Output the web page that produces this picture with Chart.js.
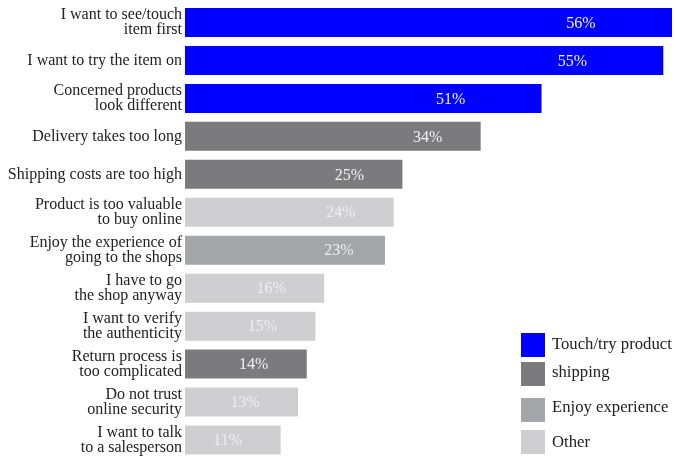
<!DOCTYPE html>
<html>
<head>
<meta charset="utf-8">
<script src="https://cdn.jsdelivr.net/npm/chart.js@4.4.1/dist/chart.umd.min.js"></script>
<style>
  html, body { margin: 0; padding: 0; background: #ffffff; overflow: hidden; }
  #wrap { position: relative; width: 676px; height: 460px; }
</style>
</head>
<body>
<div id="wrap"><canvas id="c"></canvas></div>
<script>
// ---- data ----
const categories = [
  ['I want to see/touch', 'item first'],
  'I want to try the item on',
  ['Concerned products', 'look different'],
  'Delivery takes too long',
  'Shipping costs are too high',
  ['Product is too valuable', 'to buy online'],
  ['Enjoy the experience of', 'going to the shops'],
  ['I have to go', 'the shop anyway'],
  ['I want to verify', 'the authenticity'],
  ['Return process is', 'too complicated'],
  ['Do not trust', 'online security'],
  ['I want to talk', 'to a salesperson']
];
const barValues = [56, 55, 41, 34, 25, 24, 23, 16, 15, 14, 13, 11];
const valueLabels = ['56%', '55%', '51%', '34%', '25%', '24%', '23%', '16%', '15%', '14%', '13%', '11%'];
const groups = ['touch', 'touch', 'touch', 'shipping', 'shipping', 'other', 'enjoy', 'other', 'other', 'shipping', 'other', 'other'];
const legendKeys = ['touch', 'shipping', 'enjoy', 'other'];
const legendLabels = ['Touch/try product', 'shipping', 'Enjoy experience', 'Other'];

// ---- styles ----
const groupColors = { touch: '#0000ff', shipping: '#7b7b7d', enjoy: '#a5a6a9', other: '#cfcfd1' };
const labelOffsets = { touch: 91, shipping: 53, enjoy: 46, other: 53 };
const SERIF = '"Liberation Serif", "Times New Roman", serif';

const valueLabelPlugin = {
  id: 'valueLabels',
  afterDatasetsDraw(chart) {
    const ctx = chart.ctx;
    const meta = chart.getDatasetMeta(0);
    ctx.save();
    ctx.font = '16px ' + SERIF;
    ctx.textAlign = 'center';
    ctx.textBaseline = 'middle';
    meta.data.forEach((bar, i) => {
      const g = groups[i];
      ctx.fillStyle = g === 'other' ? 'rgba(240,240,242,0.95)' : (g === 'enjoy' ? '#eeeeef' : '#f2f2f2');
      ctx.fillText(valueLabels[i], bar.x - labelOffsets[g], bar.y + 1);
    });
    ctx.restore();
  }
};

const legendPos = [
  { box: [521, 333], textY: 345 },
  { box: [521, 362], textY: 373 },
  { box: [521, 398], textY: 408 },
  { box: [521, 430], textY: 443 }
];
const customLegendPlugin = {
  id: 'customLegend',
  afterDraw(chart) {
    const ctx = chart.ctx;
    ctx.save();
    ctx.font = '16.7px ' + SERIF;
    ctx.textAlign = 'left';
    ctx.textBaseline = 'middle';
    legendKeys.forEach((k, i) => {
      const p = legendPos[i];
      ctx.fillStyle = groupColors[k];
      ctx.fillRect(p.box[0], p.box[1], 24, 24);
      ctx.fillStyle = '#222222';
      ctx.fillText(legendLabels[i], 552, p.textY);
    });
    ctx.restore();
  }
};

new Chart(document.getElementById('c'), {
  type: 'bar',
  data: {
    labels: categories,
    datasets: [{
      data: barValues,
      backgroundColor: groups.map(g => groupColors[g]),
      borderWidth: 0,
      categoryPercentage: 1,
      barPercentage: 0.765
    }]
  },
  options: {
    indexAxis: 'y',
    responsive: true,
    maintainAspectRatio: false,
    animation: false,
    layout: { padding: { top: 3.5, bottom: 1, left: 0, right: 4 } },
    plugins: { legend: { display: false }, tooltip: { enabled: false } },
    scales: {
      x: { display: false, min: 0, max: 56 },
      y: {
        grid: { display: false, drawTicks: false },
        border: { display: false },
        ticks: {
          color: '#222222',
          padding: 3,
          font: { family: SERIF, size: 16, lineHeight: '15px' }
        },
        afterFit(scale) {
          scale.width = 185;
          scale.paddingTop = 0;
          scale.paddingBottom = 0;
        }
      }
    }
  },
  plugins: [valueLabelPlugin, customLegendPlugin]
});
</script>
</body>
</html>
